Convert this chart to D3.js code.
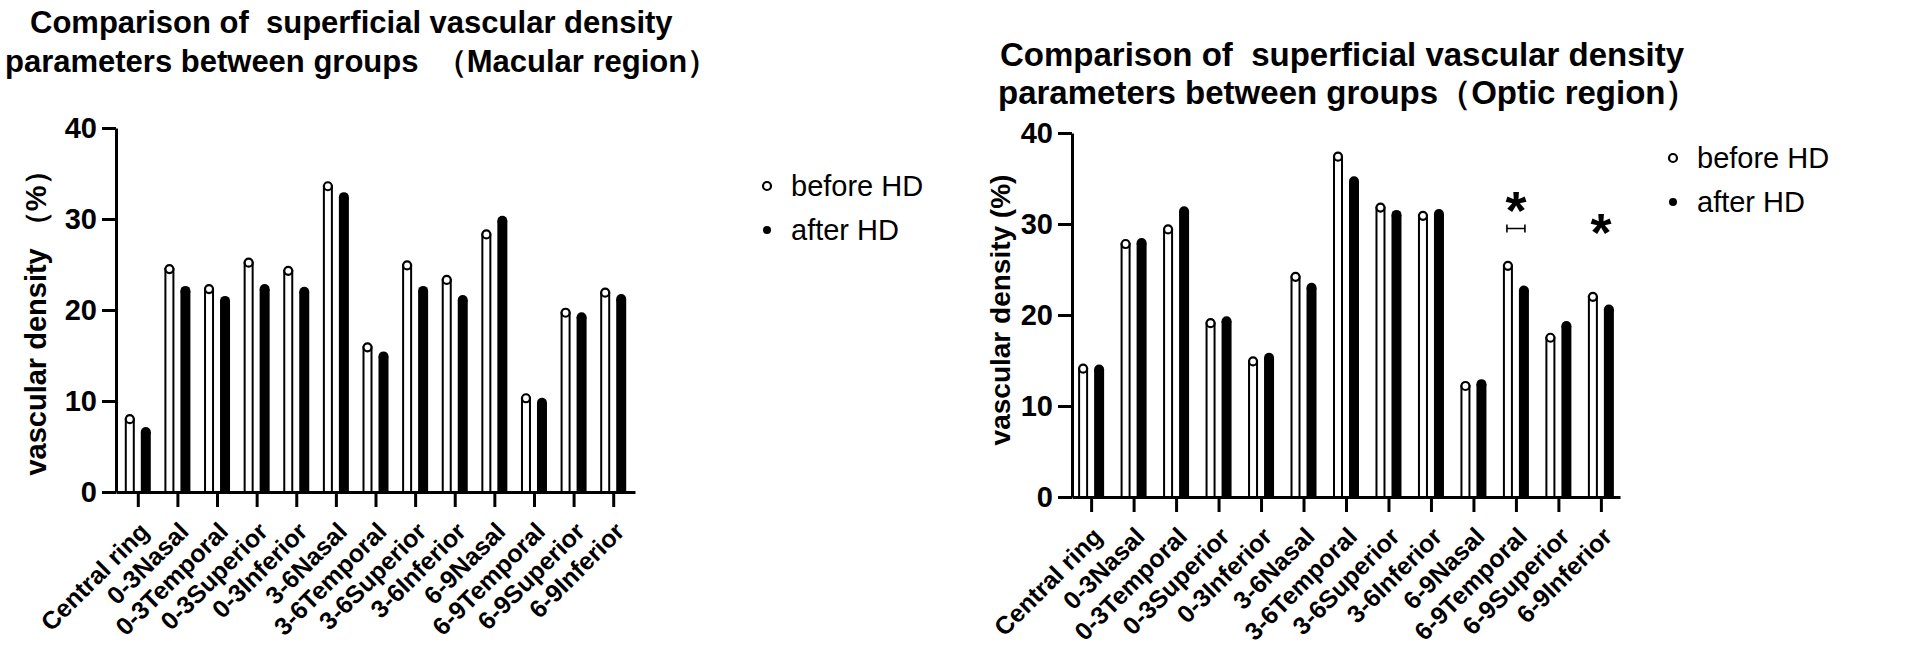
<!DOCTYPE html>
<html>
<head>
<meta charset="utf-8">
<script src="https://cdn.jsdelivr.net/npm/d3@7/dist/d3.min.js"></script>
<style>
  body { margin: 0; background: #fff; }
  text { font-family: "Liberation Sans", Arial, sans-serif; }
</style>
</head>
<body>
<svg id="fig" width="1908" height="653"></svg>
<script>
// data
var categories = ["Central ring", "0-3Nasal", "0-3Temporal", "0-3Superior", "0-3Inferior",
    "3-6Nasal", "3-6Temporal", "3-6Superior", "3-6Inferior",
    "6-9Nasal", "6-9Temporal", "6-9Superior", "6-9Inferior"];
var seriesNames = ["before HD", "after HD"];

var macularBefore = [8.0, 24.5, 22.3, 25.2, 24.3, 33.6, 15.9, 24.9, 23.3, 28.3, 10.3, 19.7, 21.9];
var macularAfter  = [6.6, 22.1, 21.0, 22.3, 22.0, 32.4, 14.9, 22.1, 21.1, 29.8, 9.8, 19.2, 21.2];

var opticBefore = [14.1, 27.8, 29.4, 19.1, 14.9, 24.2, 37.4, 31.8, 30.9, 12.2, 25.4, 17.5, 22.0];
var opticAfter  = [14.0, 27.9, 31.4, 19.3, 15.3, 23.0, 34.7, 31.0, 31.1, 12.4, 22.7, 18.8, 20.6];
var opticStars = ["6-9Temporal", "6-9Inferior"];

var yTicks = [0, 10, 20, 30, 40];

var svg = d3.select("#fig");
svg.append("rect").attr("width", 1908).attr("height", 653).attr("fill", "#fff");

function drawPanel(p) {
    var g = svg.append("g");

    var y = d3.scaleLinear().domain([0, 40]).range([p.y0, p.y40]);
    var x = d3.scalePoint().domain(categories).range([p.axisX, p.xEnd]).padding(p.pad);

    // title, two lines
    g.selectAll("text.title").data(p.title).enter().append("text")
        .attr("class", "title")
        .attr("x", function (d, i) { return p.titleX[i]; })
        .attr("y", function (d, i) { return p.titleY[i]; })
        .attr("font-size", p.titleSize).attr("font-weight", "bold")
        .style("white-space", "pre")
        .text(function (d) { return d; });

    // y axis
    var yAxis = g.append("g")
        .attr("transform", "translate(" + p.axisX + ",0)")
        .call(d3.axisLeft(y).tickValues(yTicks).tickSize(14).tickSizeOuter(0).tickPadding(5));
    yAxis.select(".domain").attr("stroke-width", 3);
    yAxis.selectAll(".tick line").attr("stroke-width", 3);
    yAxis.selectAll(".tick text").attr("font-size", 29).attr("font-weight", "bold")
        .attr("font-family", "Liberation Sans, Arial, sans-serif").attr("fill", "#000");

    // y label
    g.append("text")
        .attr("transform", "translate(" + p.yLabelX + "," + p.yLabelY + ") rotate(-90)")
        .attr("text-anchor", "middle")
        .attr("font-size", p.yLabelSize).attr("font-weight", "bold")
        .style("white-space", "pre")
        .text(p.yLabel);

    // bars: open for before, filled for after
    var off = 8;
    var bars = g.append("g");
    bars.selectAll("rect.before").data(p.before).enter().append("rect")
        .attr("x", function (d, i) { return x(categories[i]) - off - 4; })
        .attr("y", function (d) { return y(d); })
        .attr("width", 8)
        .attr("height", function (d) { return y(0) - y(d); })
        .attr("fill", "#fff").attr("stroke", "#000").attr("stroke-width", 2);
    bars.selectAll("rect.after").data(p.after).enter().append("rect")
        .attr("x", function (d, i) { return x(categories[i]) + off - 5; })
        .attr("y", function (d) { return y(d); })
        .attr("width", 10)
        .attr("height", function (d) { return y(0) - y(d); })
        .attr("fill", "#000");
    bars.selectAll("circle.before").data(p.before).enter().append("circle")
        .attr("cx", function (d, i) { return x(categories[i]) - off; })
        .attr("cy", function (d) { return y(d); })
        .attr("r", 4)
        .attr("fill", "#fff").attr("stroke", "#000").attr("stroke-width", 2.2);
    bars.selectAll("circle.after").data(p.after).enter().append("circle")
        .attr("cx", function (d, i) { return x(categories[i]) + off; })
        .attr("cy", function (d) { return y(d); })
        .attr("r", 5)
        .attr("fill", "#000");

    // x axis with slanted labels
    var xAxis = g.append("g")
        .attr("transform", "translate(0," + p.y0 + ")")
        .call(d3.axisBottom(x).tickSize(15).tickSizeOuter(0));
    xAxis.select(".domain").attr("stroke-width", 3);
    xAxis.selectAll(".tick line").attr("stroke-width", 3);
    xAxis.selectAll(".tick text")
        .attr("x", 0).attr("y", 0).attr("dy", "0.35em")
        .attr("transform", "translate(6,35) rotate(-45)")
        .attr("text-anchor", "end")
        .attr("font-size", 25).attr("font-weight", "bold")
        .attr("font-family", "Liberation Sans, Arial, sans-serif").attr("fill", "#000");

    // legend
    var lg = g.append("g");
    seriesNames.forEach(function (name, i) {
        var ly = p.legendY + i * 44;
        if (i === 0) {
            lg.append("circle").attr("cx", p.legendX).attr("cy", ly).attr("r", 4)
                .attr("fill", "#fff").attr("stroke", "#000").attr("stroke-width", 2.2);
        } else {
            lg.append("circle").attr("cx", p.legendX).attr("cy", ly).attr("r", 4).attr("fill", "#000");
        }
        lg.append("text").attr("x", p.legendX + 24).attr("y", ly).attr("dy", "0.35em")
            .attr("font-size", 29).text(name);
    });

    // significance marks
    (p.stars || []).forEach(function (c, i) {
        var cx = x(c);
        g.append("text").attr("x", cx).attr("y", y(p.starLevels[i]) + 25)
            .attr("text-anchor", "middle").attr("font-size", 54).attr("font-weight", "bold")
            .text("*");
        if (i === 0) {
            var by = y(p.bracketLevel);
            g.append("path")
                .attr("d", "M" + (cx - off - 1) + "," + (by - 4) + "V" + (by + 4) +
                    "M" + (cx - off - 1) + "," + by + "H" + (cx + off + 1) +
                    "M" + (cx + off + 1) + "," + (by - 4) + "V" + (by + 4))
                .attr("stroke", "#000").attr("stroke-width", 1.6).attr("fill", "none");
        }
    });
}

drawPanel({
    axisX: 116, xEnd: 635, pad: 0.55, y0: 492, y40: 128,
    title: ["Comparison of  superficial vascular density", "parameters between groups  \uFF08Macular region\uFF09"],
    titleX: [30, 5], titleY: [33, 72], titleSize: 31,
    yLabel: "vascular density \uFF08%\uFF09", yLabelX: 46, yLabelY: 316, yLabelSize: 29,
    before: macularBefore, after: macularAfter,
    legendX: 767, legendY: 186
});

drawPanel({
    axisX: 1072, xEnd: 1620, pad: 0.45, y0: 497, y40: 133,
    title: ["Comparison of  superficial vascular density", "parameters between groups\uFF08Optic region\uFF09"],
    titleX: [1000, 998], titleY: [66, 104], titleSize: 33,
    yLabel: "vascular density (%)", yLabelX: 1010, yLabelY: 310, yLabelSize: 28,
    before: opticBefore, after: opticAfter,
    legendX: 1673, legendY: 158,
    stars: opticStars, starLevels: [32.2, 29.8], bracketLevel: 29.5
});
</script>
</body>
</html>
